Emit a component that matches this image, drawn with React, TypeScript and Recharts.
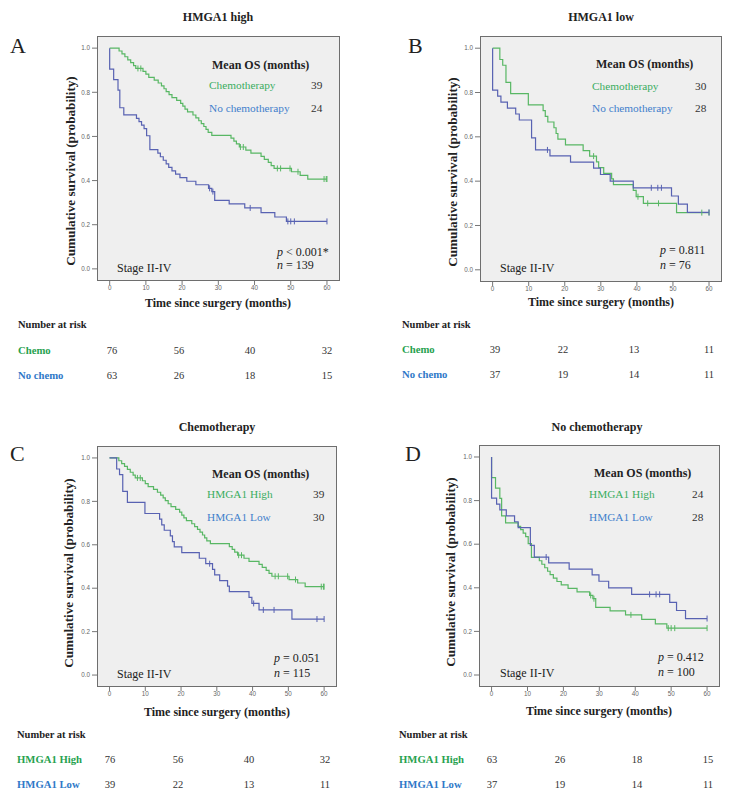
import React from 'react';
import { ComposedChart, Line, Scatter, XAxis, YAxis, CartesianGrid } from 'recharts';

// ---------- data: Kaplan-Meier steps [months, survival] ----------
const highChemo: number[][] = [
  [0, 1.0], [2.6, 0.987], [3.4, 0.974], [4.2, 0.961], [5.0, 0.947], [5.8, 0.934], [6.6, 0.921], [7.2, 0.908],
  [9.2, 0.895], [10.0, 0.882], [10.8, 0.868], [12.3, 0.855], [13.4, 0.842], [14.3, 0.829], [15.0, 0.816],
  [15.6, 0.803], [16.4, 0.789], [17.2, 0.776], [18.5, 0.763], [19.6, 0.75], [20.2, 0.737], [20.8, 0.724],
  [21.5, 0.711], [23.0, 0.697], [23.8, 0.684], [24.6, 0.671], [25.3, 0.658], [26.0, 0.645], [26.6, 0.632],
  [27.2, 0.618], [28.2, 0.605], [33.5, 0.592], [34.3, 0.579], [35.0, 0.566], [35.8, 0.552], [37.6, 0.538],
  [39.0, 0.524], [41.8, 0.51], [42.7, 0.496], [43.8, 0.482], [44.6, 0.468], [45.4, 0.455], [50.2, 0.44],
  [52.6, 0.424], [54.7, 0.407], [60, 0.407],
];
const highChemoCensor: number[][] = [
  [7.8, 0.908], [8.6, 0.908], [36.1, 0.552], [36.9, 0.552], [46.3, 0.455], [47.2, 0.455], [49.8, 0.455],
  [52.0, 0.44], [59.2, 0.407], [59.8, 0.407], [60, 0.407],
];
const highNoChemo: number[][] = [
  [0, 1.0], [0, 0.905], [1.1, 0.857], [2.3, 0.81], [2.8, 0.73], [3.9, 0.698], [7.4, 0.682], [8.1, 0.667],
  [8.8, 0.651], [9.5, 0.635], [10.2, 0.603], [11.1, 0.54], [13.3, 0.524], [14.0, 0.508], [14.8, 0.492],
  [15.6, 0.476], [16.3, 0.46], [17.2, 0.444], [18.2, 0.429], [19.4, 0.413], [21.3, 0.397], [23.8, 0.381],
  [27.3, 0.365], [28.2, 0.35], [29.0, 0.31], [33.0, 0.294], [37.3, 0.276], [41.8, 0.255], [45.6, 0.235],
  [48.8, 0.215], [60, 0.215],
];
const highNoChemoCensor: number[][] = [
  [27.6, 0.365], [28.5, 0.35], [38.8, 0.276], [49.2, 0.215], [50.0, 0.215], [51.0, 0.215], [60, 0.215],
];
const lowChemo: number[][] = [
  [0, 1.0], [2.0, 0.949], [2.8, 0.923], [3.7, 0.846], [5.0, 0.795], [9.9, 0.744], [14.0, 0.718], [14.6, 0.692],
  [15.3, 0.667], [17.0, 0.641], [17.6, 0.615], [18.1, 0.59], [20.2, 0.564], [25.1, 0.538], [26.9, 0.513],
  [28.8, 0.487], [29.4, 0.461], [30.8, 0.435], [33.0, 0.41], [33.5, 0.384], [39.0, 0.358], [39.8, 0.33],
  [41.8, 0.3], [51.0, 0.258], [60, 0.258],
];
const lowChemoCensor: number[][] = [
  [28.0, 0.513], [40.3, 0.33], [43.0, 0.3], [46.0, 0.3], [58.0, 0.258], [60, 0.258],
];
const lowNoChemo: number[][] = [
  [0, 1.0], [0, 0.811], [1.4, 0.784], [2.3, 0.757], [4.1, 0.73], [6.4, 0.703], [7.4, 0.676], [10.8, 0.595],
  [11.9, 0.541], [15.9, 0.514], [21.6, 0.486], [28.0, 0.459], [29.9, 0.43], [32.6, 0.4], [39.0, 0.37],
  [49.6, 0.333], [51.5, 0.296], [54.0, 0.259], [60, 0.259],
];
const lowNoChemoCensor: number[][] = [
  [15.2, 0.541], [44.0, 0.37], [45.8, 0.37], [46.8, 0.37], [60, 0.259],
];

// ---------- number at risk ----------
const riskHighChemo = [76, 56, 40, 32];
const riskHighNoChemo = [63, 26, 18, 15];
const riskLowChemo = [39, 22, 13, 11];
const riskLowNoChemo = [37, 19, 14, 11];

// ---------- ticks / labels ----------
const xTicks = [0, 10, 20, 30, 40, 50, 60];
const yTicks = [0, 0.2, 0.4, 0.6, 0.8, 1.0];
const titles = ['HMGA1 high', 'HMGA1 low', 'Chemotherapy', 'No chemotherapy'];
const letters = ['A', 'B', 'C', 'D'];
const legendLabels = [
  ['Chemotherapy', 'No chemotherapy'],
  ['Chemotherapy', 'No chemotherapy'],
  ['HMGA1 High', 'HMGA1 Low'],
  ['HMGA1 High', 'HMGA1 Low'],
];
const meanOS = [[39, 24], [30, 28], [39, 30], [24, 28]];
const pValues = ['< 0.001*', '= 0.811', '= 0.051', '= 0.412'];
const nValues = [139, 76, 115, 100];
const riskLabels = [
  ['Chemo', 'No chemo'],
  ['Chemo', 'No chemo'],
  ['HMGA1 High', 'HMGA1 Low'],
  ['HMGA1 High', 'HMGA1 Low'],
];

const GREEN_LINE = '#58b764';
const BLUE_LINE = '#5862b2';
const GREEN_TXT = '#3aad5f';
const BLUE_TXT = '#3f80cc';
const GREEN_BOLD = '#27a24f';
const BLUE_BOLD = '#2f79c8';

const SERIF = "'Liberation Serif', 'Times New Roman', serif";
const SANS = "'Liberation Sans', Arial, sans-serif";

const XD: [number, number] = [-3.5, 63.6];
const YD: [number, number] = [-0.055, 1.055];

const pts = (a: number[][]) => a.map(([t, s]) => ({ t, s }));

type Layout = {
  plot: { x: number; y: number; w: number; h: number };
  title: [number, number];
  letter: [number, number];
  mean: [number, number];
  leg1: number; leg2: number; legX: number; numX: number;
  p: [number, number]; n: number;
  stage: [number, number];
  ylab: [number, number];
  xlab: [number, number];
  riskX: number; riskHead: number; risk1: number; risk2: number;
  cols: number[];
};

const layouts: Layout[] = [
  {
    plot: { x: 97, y: 36, w: 243, h: 245 }, title: [218, 21], letter: [10, 53], mean: [212, 69],
    leg1: 89, leg2: 112, legX: 209, numX: 311, p: [277, 256], n: 269, stage: [117, 272],
    ylab: [70, 171], xlab: [218, 307], riskX: 18, riskHead: 328, risk1: 354, risk2: 379,
    cols: [112, 179, 250, 327],
  },
  {
    plot: { x: 480, y: 36, w: 242, h: 246 }, title: [601, 21], letter: [408, 53], mean: [596, 68],
    leg1: 90, leg2: 112, legX: 592, numX: 695, p: [660, 254], n: 269, stage: [500, 272],
    ylab: [452, 172], xlab: [601, 306], riskX: 402, riskHead: 328, risk1: 353, risk2: 378,
    cols: [495, 563, 634, 709],
  },
  {
    plot: { x: 97, y: 446, w: 240, h: 241 }, title: [217, 431], letter: [10, 461], mean: [212, 478],
    leg1: 498, leg2: 521, legX: 207, numX: 313, p: [274, 662], n: 677, stage: [117, 678],
    ylab: [68, 573], xlab: [217, 716], riskX: 17, riskHead: 738, risk1: 763, risk2: 788,
    cols: [110, 178, 249, 325],
  },
  {
    plot: { x: 479, y: 445, w: 241, h: 242 }, title: [597, 431], letter: [405, 461], mean: [594, 477],
    leg1: 498, leg2: 521, legX: 589, numX: 692, p: [658, 661], n: 676, stage: [500, 677],
    ylab: [450, 572], xlab: [599, 715], riskX: 399, riskHead: 738, risk1: 763, risk2: 788,
    cols: [492, 560, 637, 708],
  },
];

const panelSeries = [
  [{ d: highChemo, c: highChemoCensor, col: GREEN_LINE }, { d: highNoChemo, c: highNoChemoCensor, col: BLUE_LINE }],
  [{ d: lowChemo, c: lowChemoCensor, col: GREEN_LINE }, { d: lowNoChemo, c: lowNoChemoCensor, col: BLUE_LINE }],
  [{ d: highChemo, c: highChemoCensor, col: GREEN_LINE }, { d: lowChemo, c: lowChemoCensor, col: BLUE_LINE }],
  [{ d: highNoChemo, c: highNoChemoCensor, col: GREEN_LINE }, { d: lowNoChemo, c: lowNoChemoCensor, col: BLUE_LINE }],
];
const panelRisk = [
  [riskHighChemo, riskHighNoChemo],
  [riskLowChemo, riskLowNoChemo],
  [riskHighChemo, riskLowChemo],
  [riskHighNoChemo, riskLowNoChemo],
];

const censorShape = (color: string) => (props: any) => {
  const { cx, cy } = props;
  if (cx == null || cy == null) return <g />;
  return <line x1={cx} x2={cx} y1={cy - 3} y2={cy + 3} stroke={color} strokeWidth={1} />;
};

const tickStyle = { fontSize: 6.3, fill: '#666', fontFamily: SANS };

function Plot({ i }: { i: number }) {
  const { x, y, w, h } = layouts[i].plot;
  const L = 32, T = 4, R = 4, B = 24;
  return (
    <div style={{ position: 'absolute', left: x - L, top: y - T }}>
      <ComposedChart width={w + L + R} height={h + T + B} margin={{ top: T, right: R, bottom: 0, left: 0 }}>
        <CartesianGrid horizontal={false} vertical={false} fill="#efefef" fillOpacity={1} stroke="none" />
        <XAxis
          type="number" dataKey="t" domain={XD} ticks={xTicks} allowDataOverflow height={B}
          tickSize={4} tickMargin={1} axisLine={false} tickLine={{ stroke: '#777' }} tick={tickStyle} interval={0}
        />
        <YAxis
          type="number" dataKey="s" domain={YD} ticks={yTicks} allowDataOverflow width={L}
          tickSize={5} tickMargin={2} axisLine={false} tickLine={{ stroke: '#777' }} tick={tickStyle} interval={0}
          tickFormatter={(v: number) => v.toFixed(1)}
        />
        {panelSeries[i].map((s, k) => (
          <Line
            key={'l' + k} data={pts(s.d)} dataKey="s" type="stepAfter" stroke={s.col} strokeWidth={1.2}
            dot={false} activeDot={false} isAnimationActive={false}
          />
        ))}
        {panelSeries[i].map((s, k) => (
          <Scatter key={'c' + k} data={pts(s.c)} dataKey="s" fill={s.col} shape={censorShape(s.col)} isAnimationActive={false} />
        ))}
      </ComposedChart>
    </div>
  );
}

function Texts({ i }: { i: number }) {
  const l = layouts[i];
  const { x, y, w, h } = l.plot;
  return (
    <g fontFamily={SERIF}>
      <rect x={x + 0.5} y={y + 0.5} width={w - 1} height={h - 1} fill="none" stroke="#6e6e6e" strokeWidth={1} />
      <text x={l.title[0]} y={l.title[1]} textAnchor="middle" fontSize={12} fontWeight="bold" fill="#222">{titles[i]}</text>
      <text x={l.letter[0]} y={l.letter[1]} fontSize={22} fill="#222">{letters[i]}</text>
      <text x={l.mean[0]} y={l.mean[1]} fontSize={12} fontWeight="bold" fill="#222">Mean OS (months)</text>
      <text x={l.legX} y={l.leg1} fontSize={11.3} fill={GREEN_TXT}>{legendLabels[i][0]}</text>
      <text x={l.numX} y={l.leg1} fontSize={11.3} fill="#333">{meanOS[i][0]}</text>
      <text x={l.legX} y={l.leg2} fontSize={11.3} fill={BLUE_TXT}>{legendLabels[i][1]}</text>
      <text x={l.numX} y={l.leg2} fontSize={11.3} fill="#333">{meanOS[i][1]}</text>
      <text x={l.p[0]} y={l.p[1]} fontSize={12} fill="#222"><tspan fontStyle="italic">p</tspan>{' ' + pValues[i]}</text>
      <text x={l.p[0]} y={l.n} fontSize={12} fill="#222"><tspan fontStyle="italic">n</tspan>{' = ' + nValues[i]}</text>
      <text x={l.stage[0]} y={l.stage[1]} fontSize={12} fill="#222">Stage II-IV</text>
      <text
        x={l.ylab[0]} y={l.ylab[1]} textAnchor="middle" dominantBaseline="central" fontSize={13.2} fontWeight="bold" fill="#222"
        transform={`rotate(-90 ${l.ylab[0]} ${l.ylab[1]})`}
      >
        Cumulative survival (probability)
      </text>
      <text x={l.xlab[0]} y={l.xlab[1]} textAnchor="middle" fontSize={12} fontWeight="bold" fill="#222">Time since surgery (months)</text>
      <text x={l.riskX} y={l.riskHead} fontSize={10.5} fontWeight="bold" fill="#222">Number at risk</text>
      <text x={l.riskX} y={l.risk1} fontSize={10.7} fontWeight="bold" fill={GREEN_BOLD}>{riskLabels[i][0]}</text>
      <text x={l.riskX} y={l.risk2} fontSize={10.7} fontWeight="bold" fill={BLUE_BOLD}>{riskLabels[i][1]}</text>
      {panelRisk[i][0].map((v, k) => (
        <text key={'r1' + k} x={l.cols[k]} y={l.risk1} textAnchor="middle" fontSize={10.5} fill="#333">{v}</text>
      ))}
      {panelRisk[i][1].map((v, k) => (
        <text key={'r2' + k} x={l.cols[k]} y={l.risk2} textAnchor="middle" fontSize={10.5} fill="#333">{v}</text>
      ))}
    </g>
  );
}

export default function App() {
  return (
    <div style={{ position: 'absolute', left: 0, top: 0, width: 734, height: 799, background: '#fff', overflow: 'hidden' }}>
      {[0, 1, 2, 3].map((i) => <Plot key={i} i={i} />)}
      <svg width={734} height={799} style={{ position: 'absolute', left: 0, top: 0, pointerEvents: 'none' }}>
        {[0, 1, 2, 3].map((i) => <Texts key={i} i={i} />)}
      </svg>
    </div>
  );
}
